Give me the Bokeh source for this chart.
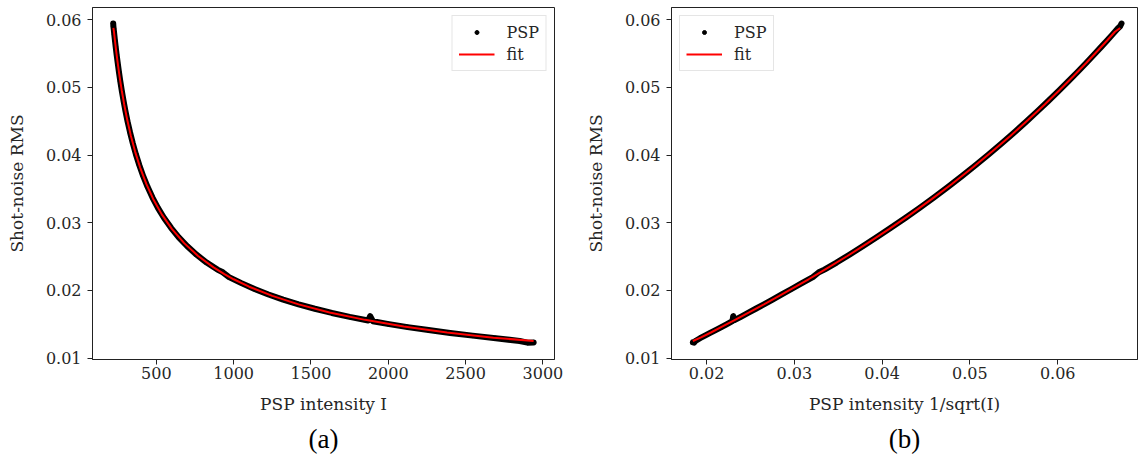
import numpy as np
from bokeh.plotting import figure
from bokeh.layouts import row
from bokeh.models import Legend, LegendItem, FixedTicker, NumeralTickFormatter, Title
from bokeh.embed import file_html
from bokeh.resources import INLINE

# ---- data ----
psp_intensity = [221, 222, 224, 228, 232, 237, 243, 250, 258, 267, 277, 288, 300, 314,
                 330, 348, 368, 390, 415, 443, 475, 510, 550, 595, 645, 700, 760, 825,
                 895, 930, 970, 1050, 1135, 1225, 1320, 1420, 1525, 1635, 1750, 1870,
                 1883, 1900, 1995, 2125, 2260, 2400, 2545, 2695, 2850, 2900, 2940]
psp_rms = [0.05945, 0.05905, 0.05868, 0.05781, 0.05698, 0.05600, 0.05486, 0.05362,
           0.05229, 0.05089, 0.04945, 0.04800, 0.04653, 0.04496, 0.04335, 0.04172,
           0.04009, 0.03850, 0.03689, 0.03531, 0.03372, 0.03221, 0.03071, 0.02925,
           0.02785, 0.02653, 0.02528, 0.02412, 0.02308, 0.02268, 0.02196, 0.02108,
           0.02021, 0.01940, 0.01864, 0.01794, 0.01729, 0.01667, 0.01609, 0.01556,
           0.01620, 0.01545, 0.01506, 0.01458, 0.01414, 0.01372, 0.01332, 0.01294,
           0.01252, 0.01228, 0.01232]

fit_intensity = [222, 226, 232, 240, 250, 262, 276, 292, 312, 335, 362, 395, 435, 480,
                 535, 600, 680, 770, 870, 940, 1000, 1100, 1250, 1420, 1620, 1850, 2100,
                 2380, 2680, 2940]
fit_rms = [0.05880, 0.05823, 0.05698, 0.05542, 0.05362, 0.05165, 0.04959, 0.04749,
           0.04518, 0.04288, 0.04056, 0.03816, 0.03574, 0.03349, 0.03124, 0.02909,
           0.02699, 0.02509, 0.02340, 0.02241, 0.02165, 0.02055, 0.01919, 0.01794,
           0.01675, 0.01565, 0.01467, 0.01378, 0.01302, 0.01252]

x_ticks_a = [500, 1000, 1500, 2000, 2500, 3000]
x_ticks_b = [0.02, 0.03, 0.04, 0.05, 0.06]
y_ticks = [0.01, 0.02, 0.03, 0.04, 0.05, 0.06]

TXT = "#262626"
SERIF = "DejaVu Serif"


def make_panel(x_data, x_fit, x_range, x_ticks, x_fmt, x_label, caption,
               border_left, border_right, frame_w, legend_loc, cap_offset):
    p = figure(frame_width=frame_w, frame_height=352,
               min_border_left=border_left, min_border_right=border_right,
               min_border_top=7, min_border_bottom=101,
               x_range=x_range, y_range=(0.00979, 0.06182),
               output_backend="svg", toolbar_location=None,
               background_fill_color="white", border_fill_color="white")
    p.grid.visible = False
    p.outline_line_color = "#222222"
    p.outline_line_width = 1

    band = p.line(x_data, psp_rms, line_color="black", line_width=6,
                  line_join="round", line_cap="round")
    pts = p.scatter(x_data, psp_rms, size=4, color="black")
    fit = p.line(x_fit, fit_rms, line_color="#ff0000", line_width=2)

    for ax in (p.xaxis[0], p.yaxis[0]):
        ax.axis_line_color = "#222222"
        ax.major_tick_line_color = "#222222"
        ax.minor_tick_line_color = None
        ax.major_tick_in = 0
        ax.major_tick_out = 5
        ax.major_label_text_font = SERIF
        ax.major_label_text_font_size = "16px"
        ax.major_label_text_color = TXT
        ax.axis_label_text_font = SERIF
        ax.axis_label_text_font_size = "17px"
        ax.axis_label_text_font_style = "normal"
        ax.axis_label_text_color = TXT

    p.xaxis.ticker = FixedTicker(ticks=x_ticks)
    p.xaxis.formatter = NumeralTickFormatter(format=x_fmt)
    p.xaxis.axis_label = x_label
    p.xaxis.major_label_standoff = 2
    p.xaxis.axis_label_standoff = 12

    p.yaxis.ticker = FixedTicker(ticks=y_ticks)
    p.yaxis.formatter = NumeralTickFormatter(format="0.00")
    p.yaxis.axis_label = "Shot-noise RMS"
    p.yaxis.major_label_standoff = 6
    p.yaxis.axis_label_standoff = 16

    legend = Legend(items=[LegendItem(label="PSP", renderers=[pts]),
                           LegendItem(label="fit", renderers=[fit])],
                    location=legend_loc, margin=8, padding=6, spacing=2,
                    glyph_width=36, glyph_height=10, label_height=20,
                    label_standoff=12,
                    label_text_font=SERIF, label_text_font_size="16px",
                    label_text_color=TXT,
                    border_line_color="#cccccc", border_line_width=1,
                    background_fill_color="white", background_fill_alpha=0.8)
    p.add_layout(legend)

    cap = Title(text=caption, align="center", offset=cap_offset,
                text_font="Liberation Serif", text_font_size="27px",
                text_font_style="normal", text_color="black", standoff=10)
    p.add_layout(cap, "below")
    return p


I_arr = np.array(psp_intensity, dtype=float)
If_arr = np.array(fit_intensity, dtype=float)

pa = make_panel(I_arr, If_arr, (87, 3075), x_ticks_a, "0", "PSP intensity I", "(a)",
                92, 20, 462, "top_right", -16)
pb = make_panel(1.0 / np.sqrt(I_arr), 1.0 / np.sqrt(If_arr), (0.01601, 0.06909),
                x_ticks_b, "0.00", "PSP intensity 1/sqrt(I)", "(b)",
                97, 1, 466, "top_left", -18)

layout = row(pa, pb)
open("out.html", "w").write(file_html(layout, INLINE))
